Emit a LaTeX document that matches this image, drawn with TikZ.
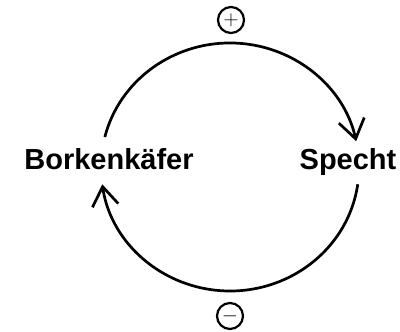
\documentclass[tikz,border=0pt]{standalone}
\usepackage{fontspec}
\setmainfont{Liberation Sans}
\usetikzlibrary{arrows.meta}
\begin{document}
\begin{tikzpicture}[x=1pt,y=1pt,
  label/.style={font=\fontsize{29}{29}\selectfont\bfseries, anchor=base, inner sep=0pt},
  sign/.style={draw, circle, line width=2.2pt, minimum size=26pt, inner sep=0pt, font=\fontsize{22}{22}\selectfont},
  loop/.style={line width=2.7pt, -{Straight Barb[length=19pt,width=26pt,line width=2.7pt]}}]
\useasboundingbox (0,0) rectangle (400,332);
\node[label] (b) at (109,162) {Borkenkäfer};
\node[label] (s) at (348,162) {Specht};
\node[sign] (p) at (231,312) {$+$};
\node[sign] (m) at (230,16) {$-$};
\coordinate (c) at (230,165);
\path (c) ++(166:129 and 124) coordinate (t1);
\path (c) ++(-8:129 and 124) coordinate (u1);
\draw[loop] (t1) arc[start angle=166, end angle=12, x radius=129, y radius=124];
\draw[loop] (u1) arc[start angle=-8, end angle=-172, x radius=129, y radius=124];
\end{tikzpicture}
\end{document}
